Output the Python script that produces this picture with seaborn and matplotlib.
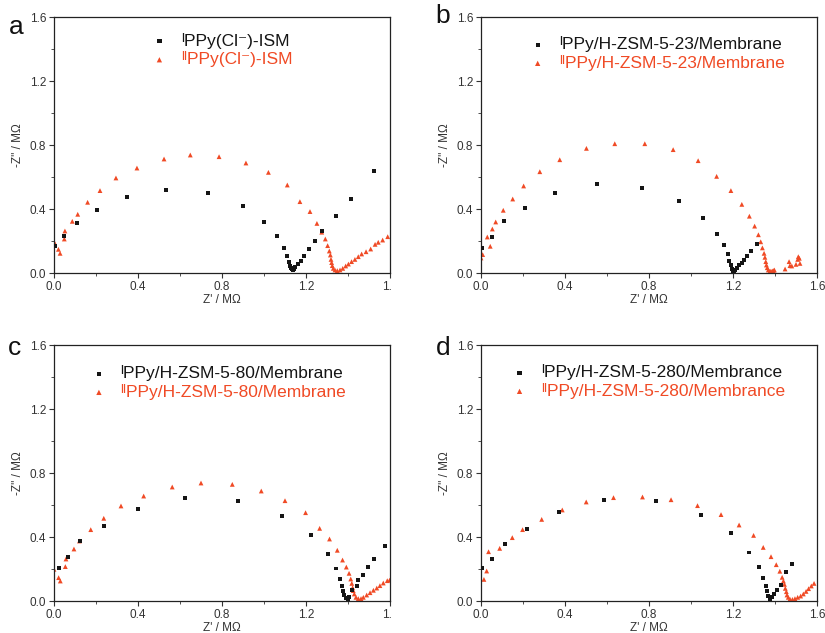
import matplotlib
matplotlib.use("Agg")
import matplotlib.pyplot as plt
import seaborn as sns
import pandas as pd
from matplotlib.ticker import MultipleLocator
from matplotlib.transforms import Bbox

# ---- Nyquist data (Z' and -Z'' in MOhm) ----
a1_x = [0.005, 0.049, 0.108, 0.206, 0.346, 0.532, 0.735, 0.898, 1.002, 1.062, 1.095, 1.111,
        1.119, 1.124, 1.128, 1.130, 1.133, 1.137, 1.140, 1.142, 1.145, 1.148, 1.163, 1.176,
        1.192, 1.216, 1.244, 1.276, 1.341, 1.413, 1.525]
a1_y = [0.167, 0.233, 0.3125, 0.392, 0.473, 0.521, 0.498, 0.421, 0.319, 0.231, 0.158, 0.108,
        0.071, 0.046, 0.030, 0.028, 0.022, 0.019, 0.020, 0.026, 0.030, 0.040, 0.056, 0.075,
        0.106, 0.148, 0.198, 0.260, 0.358, 0.4625, 0.635]
a2_x = [0.0, 0.021, 0.029, 0.049, 0.052, 0.087, 0.113, 0.160, 0.219, 0.295, 0.395, 0.524,
        0.649, 0.786, 0.914, 1.021, 1.111, 1.171, 1.219, 1.252, 1.275, 1.292, 1.303, 1.311,
        1.316, 1.319, 1.322, 1.325, 1.330, 1.338, 1.349, 1.362, 1.375, 1.389, 1.402, 1.417,
        1.433, 1.449, 1.465, 1.486, 1.508, 1.529, 1.544, 1.565, 1.589]
a2_y = [0.196, 0.148, 0.123, 0.2125, 0.2625, 0.323, 0.367, 0.442, 0.515, 0.594, 0.656, 0.7125,
        0.7375, 0.727, 0.6875, 0.629, 0.550, 0.446, 0.384, 0.310, 0.255, 0.2125, 0.171, 0.1375,
        0.1125, 0.085, 0.065, 0.046, 0.029, 0.019, 0.015, 0.019, 0.029, 0.044, 0.056, 0.071,
        0.085, 0.102, 0.119, 0.133, 0.150, 0.179, 0.192, 0.206, 0.227]

b1_x = [0.003, 0.054, 0.111, 0.210, 0.354, 0.553, 0.767, 0.942, 1.059, 1.122, 1.159, 1.175,
        1.183, 1.189, 1.197, 1.201, 1.205, 1.210, 1.218, 1.230, 1.241, 1.254, 1.268, 1.286, 1.313]
b1_y = [0.156, 0.225, 0.323, 0.406, 0.498, 0.554, 0.533, 0.448, 0.342, 0.244, 0.173, 0.119,
        0.077, 0.050, 0.025, 0.0125, 0.008, 0.019, 0.033, 0.050, 0.065, 0.081, 0.106, 0.140, 0.183]
b2_x = [0.0, 0.008, 0.030, 0.044, 0.054, 0.070, 0.106, 0.151, 0.203, 0.280, 0.375, 0.502,
        0.637, 0.780, 0.915, 1.034, 1.122, 1.190, 1.242, 1.278, 1.303, 1.321, 1.332, 1.340,
        1.348, 1.352, 1.356, 1.359, 1.363, 1.368, 1.376, 1.381, 1.387, 1.392, 1.397, 1.448,
        1.467, 1.471, 1.480, 1.500, 1.508, 1.511, 1.516, 1.519]
b2_y = [0.094, 0.115, 0.225, 0.167, 0.275, 0.319, 0.392, 0.4625, 0.544, 0.633, 0.708, 0.779,
        0.808, 0.808, 0.771, 0.702, 0.604, 0.515, 0.429, 0.355, 0.293, 0.239, 0.195, 0.157,
        0.123, 0.098, 0.071, 0.050, 0.033, 0.019, 0.0125, 0.010, 0.0125, 0.015, 0.019, 0.025,
        0.071, 0.046, 0.044, 0.054, 0.085, 0.102, 0.092, 0.060]

c1_x = [0.025, 0.068, 0.125, 0.238, 0.400, 0.625, 0.878, 1.086, 1.224, 1.303, 1.341, 1.362,
        1.371, 1.376, 1.383, 1.390, 1.398, 1.406, 1.417, 1.441, 1.449, 1.473, 1.494, 1.525, 1.576]
c1_y = [0.204, 0.277, 0.377, 0.467, 0.577, 0.642, 0.627, 0.533, 0.410, 0.292, 0.203, 0.137,
        0.094, 0.0625, 0.0375, 0.017, 0.0125, 0.027, 0.069, 0.094, 0.129, 0.1625, 0.215, 0.261, 0.342]
c2_x = [0.0, 0.022, 0.030, 0.054, 0.057, 0.095, 0.121, 0.175, 0.237, 0.319, 0.427, 0.563,
        0.700, 0.849, 0.987, 1.100, 1.198, 1.265, 1.312, 1.349, 1.374, 1.392, 1.405, 1.413,
        1.418, 1.422, 1.425, 1.430, 1.438, 1.449, 1.462, 1.473, 1.489, 1.505, 1.521, 1.537,
        1.552, 1.568, 1.587, 1.598]
c2_y = [0.198, 0.146, 0.125, 0.215, 0.2625, 0.325, 0.375, 0.446, 0.517, 0.594, 0.656, 0.7125,
        0.7375, 0.729, 0.6875, 0.627, 0.552, 0.454, 0.3875, 0.317, 0.256, 0.212, 0.173, 0.1375,
        0.110, 0.083, 0.065, 0.044, 0.023, 0.015, 0.015, 0.023, 0.0375, 0.052, 0.067, 0.081,
        0.096, 0.1125, 0.127, 0.130]

d1_x = [0.003, 0.054, 0.114, 0.219, 0.371, 0.587, 0.834, 1.048, 1.192, 1.277, 1.322, 1.341,
        1.355, 1.361, 1.368, 1.376, 1.386, 1.397, 1.411, 1.429, 1.453, 1.481]
d1_y = [0.208, 0.260, 0.356, 0.448, 0.556, 0.631, 0.625, 0.5375, 0.423, 0.303, 0.210, 0.144,
        0.096, 0.064, 0.031, 0.010, 0.023, 0.044, 0.069, 0.102, 0.179, 0.233]
d2_x = [0.014, 0.027, 0.036, 0.089, 0.149, 0.198, 0.289, 0.387, 0.501, 0.631, 0.769, 0.905,
        1.031, 1.143, 1.229, 1.298, 1.344, 1.381, 1.406, 1.423, 1.434, 1.440, 1.445, 1.449,
        1.454, 1.457, 1.463, 1.471, 1.483, 1.495, 1.508, 1.522, 1.535, 1.548, 1.560, 1.573, 1.586]
d2_y = [0.135, 0.1875, 0.308, 0.329, 0.396, 0.446, 0.510, 0.569, 0.619, 0.646, 0.650, 0.633,
        0.596, 0.540, 0.475, 0.410, 0.335, 0.277, 0.227, 0.186, 0.148, 0.125, 0.104, 0.079,
        0.058, 0.0375, 0.023, 0.0125, 0.010, 0.015, 0.023, 0.031, 0.044, 0.060, 0.077, 0.094, 0.110]

panel_letters = ["a", "b", "c", "d"]
labels_I = ["\u1d35PPy(Cl\u207b)-ISM",
            "\u1d35PPy/H-ZSM-5-23/Membrane",
            "\u1d35PPy/H-ZSM-5-80/Membrane",
            "\u1d35PPy/H-ZSM-5-280/Membrance"]
labels_II = ["\u1d35\u1d35PPy(Cl\u207b)-ISM",
             "\u1d35\u1d35PPy/H-ZSM-5-23/Membrane",
             "\u1d35\u1d35PPy/H-ZSM-5-80/Membrane",
             "\u1d35\u1d35PPy/H-ZSM-5-280/Membrance"]

BLACK = "#151515"
RED = "#f04a25"

sns.set_theme(style="ticks")
plt.rcParams["font.family"] = ["Liberation Sans", "DejaVu Sans"]

fig = plt.figure(figsize=(8.25, 6.33), dpi=100)
W, H = 825, 633
boxes = [(54, 17), (481, 17), (54, 345), (481, 345)]  # left, top in pixels
aw, ah = 336, 256
series = [(a1_x, a1_y, a2_x, a2_y), (b1_x, b1_y, b2_x, b2_y),
          (c1_x, c1_y, c2_x, c2_y), (d1_x, d1_y, d2_x, d2_y)]
legend_anchor = [(0.293, 0.871), (0.148, 0.857), (0.113, 0.853), (0.094, 0.857)]
letter_pos = [(9, 27), (435, 16), (8, 348), (436, 348)]

axes = []
for i, (l, t) in enumerate(boxes):
    ax = fig.add_axes([l / W, 1 - (t + ah) / H, aw / W, ah / H])
    axes.append(ax)
    x1, y1, x2, y2 = series[i]
    df1 = pd.DataFrame({"Zre": x1, "Zim": y1})
    df2 = pd.DataFrame({"Zre": x2, "Zim": y2})
    sns.scatterplot(data=df1, x="Zre", y="Zim", ax=ax, marker="s", s=8,
                    color=BLACK, edgecolor="none", label=labels_I[i], zorder=3)
    sns.scatterplot(data=df2, x="Zre", y="Zim", ax=ax, marker="^", s=12,
                    color=RED, edgecolor="none", label=labels_II[i], zorder=2)
    ax.set_xlim(0, 1.6)
    ax.set_ylim(0, 1.6)
    ax.xaxis.set_major_locator(MultipleLocator(0.4))
    ax.xaxis.set_minor_locator(MultipleLocator(0.2))
    ax.yaxis.set_major_locator(MultipleLocator(0.4))
    ax.yaxis.set_minor_locator(MultipleLocator(0.2))
    ax.xaxis.set_major_formatter(lambda v, p: f"{v:.1f}")
    ax.yaxis.set_major_formatter(lambda v, p: f"{v:.1f}")
    ax.tick_params(axis="both", which="major", direction="out", length=3.5, width=0.8,
                   labelsize=8.5, colors="#333333", pad=2)
    ax.tick_params(axis="both", which="minor", direction="out", length=2, width=0.6,
                   colors="#333333")
    for sp in ax.spines.values():
        sp.set_visible(True)
        sp.set_linewidth(0.9)
        sp.set_color("#222222")
    ax.set_xlabel("Z' / M\u03a9", fontsize=8.5, color="#333333", labelpad=1)
    ax.set_ylabel("-Z'' / M\u03a9", fontsize=8.5, color="#333333", labelpad=4)

    leg = ax.legend(loc="center left", bbox_to_anchor=legend_anchor[i], frameon=False,
                    fontsize=12.5, handlelength=0.8, handletextpad=0.85, labelspacing=0.15,
                    borderpad=0, borderaxespad=0, markerscale=1.1)
    for txt, col in zip(leg.get_texts(), [BLACK, RED]):
        txt.set_color(col)

    lx, ly = letter_pos[i]
    fig.text(lx / W, 1 - ly / H, panel_letters[i], fontsize=19, color="#111111",
             ha="left", va="center")

fig.canvas.draw()
# the rightmost x tick label of the left-hand panels is cut off at the panel edge
for ax in (axes[0], axes[2]):
    for lab in ax.get_xticklabels():
        if lab.get_text() == "1.6":
            lab.set_clip_on(True)
            lab.set_clip_box(Bbox([[0, 0], [391, H]]))

fig.savefig("out.png", dpi=100)
